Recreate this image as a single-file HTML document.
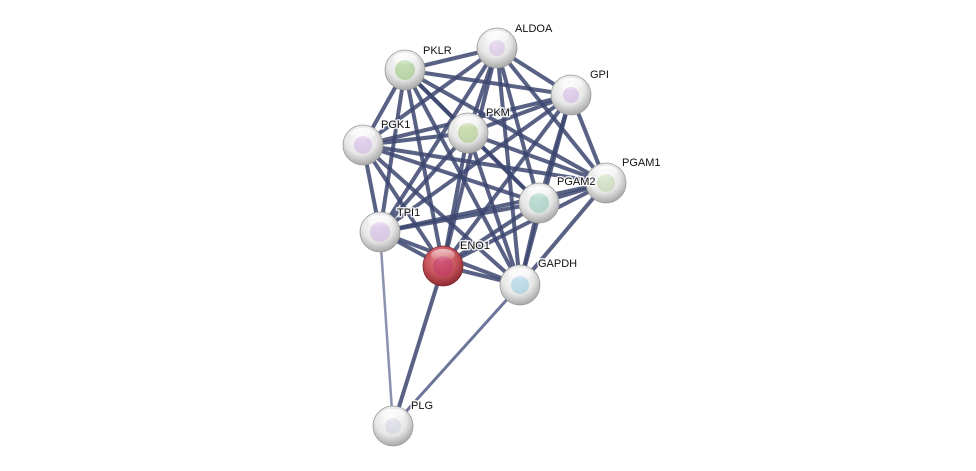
<!DOCTYPE html>
<html><head><meta charset="utf-8"><style>
html,body{margin:0;padding:0;background:#fff;width:976px;height:471px;overflow:hidden}
svg{display:block}
text{font-family:"Liberation Sans",sans-serif;font-size:11px;fill:#111;stroke:#fff;stroke-width:3px;stroke-opacity:0.85;paint-order:stroke;stroke-linejoin:round}
</style></head><body>
<svg width="976" height="471" viewBox="0 0 976 471">
<defs>
<radialGradient id="g" cx="45%" cy="35%" r="65%">
<stop offset="0" stop-color="#ffffff"/><stop offset="0.6" stop-color="#e6e6e6"/><stop offset="1" stop-color="#a8a8a8"/>
</radialGradient>
<radialGradient id="r" cx="45%" cy="35%" r="65%">
<stop offset="0" stop-color="#e88a90"/><stop offset="0.6" stop-color="#c5525a"/><stop offset="1" stop-color="#8e2a33"/>
</radialGradient>
<linearGradient id="hl" x1="0" y1="0" x2="0" y2="1">
<stop offset="0" stop-color="#fff" stop-opacity="0.9"/><stop offset="1" stop-color="#fff" stop-opacity="0"/>
</linearGradient>
</defs>
<g stroke="#3c4670" stroke-opacity="0.85" stroke-width="4" stroke-linecap="round">
<line x1="497" y1="48" x2="405" y2="70"/>
<line x1="497" y1="48" x2="571" y2="95"/>
<line x1="497" y1="48" x2="468" y2="133"/>
<line x1="497" y1="48" x2="363" y2="145"/>
<line x1="497" y1="48" x2="606" y2="183"/>
<line x1="497" y1="48" x2="539" y2="203"/>
<line x1="497" y1="48" x2="380" y2="232"/>
<line x1="497" y1="48" x2="443" y2="266"/>
<line x1="497" y1="48" x2="520" y2="285"/>
<line x1="405" y1="70" x2="571" y2="95"/>
<line x1="405" y1="70" x2="468" y2="133"/>
<line x1="405" y1="70" x2="363" y2="145"/>
<line x1="405" y1="70" x2="606" y2="183"/>
<line x1="405" y1="70" x2="539" y2="203"/>
<line x1="405" y1="70" x2="380" y2="232"/>
<line x1="405" y1="70" x2="443" y2="266"/>
<line x1="405" y1="70" x2="520" y2="285"/>
<line x1="571" y1="95" x2="468" y2="133"/>
<line x1="571" y1="95" x2="363" y2="145"/>
<line x1="571" y1="95" x2="606" y2="183"/>
<line x1="571" y1="95" x2="539" y2="203"/>
<line x1="571" y1="95" x2="380" y2="232"/>
<line x1="571" y1="95" x2="443" y2="266"/>
<line x1="571" y1="95" x2="520" y2="285"/>
<line x1="468" y1="133" x2="363" y2="145"/>
<line x1="468" y1="133" x2="606" y2="183"/>
<line x1="468" y1="133" x2="539" y2="203"/>
<line x1="468" y1="133" x2="380" y2="232"/>
<line x1="468" y1="133" x2="443" y2="266"/>
<line x1="468" y1="133" x2="520" y2="285"/>
<line x1="363" y1="145" x2="606" y2="183"/>
<line x1="363" y1="145" x2="539" y2="203"/>
<line x1="363" y1="145" x2="380" y2="232"/>
<line x1="363" y1="145" x2="443" y2="266"/>
<line x1="363" y1="145" x2="520" y2="285"/>
<line x1="606" y1="183" x2="539" y2="203"/>
<line x1="606" y1="183" x2="380" y2="232"/>
<line x1="606" y1="183" x2="443" y2="266"/>
<line x1="606" y1="183" x2="520" y2="285"/>
<line x1="539" y1="203" x2="380" y2="232"/>
<line x1="539" y1="203" x2="443" y2="266"/>
<line x1="539" y1="203" x2="520" y2="285"/>
<line x1="380" y1="232" x2="443" y2="266"/>
<line x1="380" y1="232" x2="520" y2="285"/>
<line x1="443" y1="266" x2="520" y2="285"/>
<line x1="443" y1="266" x2="393" y2="426"/>
</g>
<g stroke-linecap="round">
<line x1="380" y1="232" x2="393" y2="426" stroke="#8a92b0" stroke-width="2.5"/>
<line x1="520" y1="285" x2="393" y2="426" stroke="#6d7699" stroke-width="3"/>
</g>
<g>
<g transform="translate(497,48)"><circle r="20" fill="url(#g)" stroke="#999" stroke-width="0.8"/><circle r="8" fill="#c9a8dd" opacity="0.4"/><ellipse cx="0" cy="-11" rx="12" ry="6" fill="url(#hl)"/></g>
<g transform="translate(405,70)"><circle r="20" fill="url(#g)" stroke="#999" stroke-width="0.8"/><circle r="10" fill="#8bbf6a" opacity="0.5"/><ellipse cx="0" cy="-11" rx="12" ry="6" fill="url(#hl)"/></g>
<g transform="translate(571,95)"><circle r="20" fill="url(#g)" stroke="#999" stroke-width="0.8"/><circle r="8" fill="#c9a8dd" opacity="0.5"/><ellipse cx="0" cy="-11" rx="12" ry="6" fill="url(#hl)"/></g>
<g transform="translate(468,133)"><circle r="20" fill="url(#g)" stroke="#999" stroke-width="0.8"/><circle r="10" fill="#9bc06a" opacity="0.5"/><ellipse cx="0" cy="-11" rx="12" ry="6" fill="url(#hl)"/></g>
<g transform="translate(363,145)"><circle r="20" fill="url(#g)" stroke="#999" stroke-width="0.8"/><circle r="9" fill="#c9a8dd" opacity="0.5"/><ellipse cx="0" cy="-11" rx="12" ry="6" fill="url(#hl)"/></g>
<g transform="translate(606,183)"><circle r="20" fill="url(#g)" stroke="#999" stroke-width="0.8"/><circle r="9" fill="#a9c98a" opacity="0.4"/><ellipse cx="0" cy="-11" rx="12" ry="6" fill="url(#hl)"/></g>
<g transform="translate(539,203)"><circle r="20" fill="url(#g)" stroke="#999" stroke-width="0.8"/><circle r="10" fill="#7fc0b0" opacity="0.5"/><ellipse cx="0" cy="-11" rx="12" ry="6" fill="url(#hl)"/></g>
<g transform="translate(380,232)"><circle r="20" fill="url(#g)" stroke="#999" stroke-width="0.8"/><circle r="10" fill="#c9a8dd" opacity="0.5"/><ellipse cx="0" cy="-11" rx="12" ry="6" fill="url(#hl)"/></g>
<g transform="translate(443,266)"><circle r="20" fill="url(#r)" stroke="#7a2a30" stroke-width="0.8"/><circle r="10" fill="#c0306a" opacity="0.5"/><ellipse cx="0" cy="-11" rx="12" ry="6" fill="url(#hl)" opacity="0.7"/></g>
<g transform="translate(520,285)"><circle r="20" fill="url(#g)" stroke="#999" stroke-width="0.8"/><circle r="9" fill="#8cc4dc" opacity="0.5"/><ellipse cx="0" cy="-11" rx="12" ry="6" fill="url(#hl)"/></g>
<g transform="translate(393,426)"><circle r="20" fill="url(#g)" stroke="#999" stroke-width="0.8"/><circle r="8" fill="#c0c0d8" opacity="0.4"/><ellipse cx="0" cy="-11" rx="12" ry="6" fill="url(#hl)"/></g>
</g>
<text x="515" y="32">ALDOA</text>
<text x="423" y="54">PKLR</text>
<text x="590" y="78">GPI</text>
<text x="486" y="116">PKM</text>
<text x="381" y="128">PGK1</text>
<text x="622" y="166">PGAM1</text>
<text x="557" y="185">PGAM2</text>
<text x="397" y="216">TPI1</text>
<text x="460" y="249">ENO1</text>
<text x="538" y="267">GAPDH</text>
<text x="411" y="409">PLG</text>
</svg>
</body></html>
